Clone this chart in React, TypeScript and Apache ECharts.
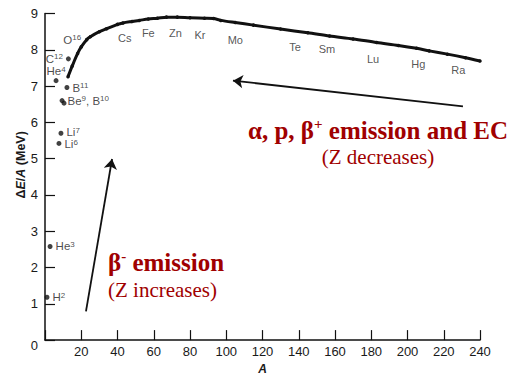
import React, { useEffect, useRef } from "react";
import * as echarts from "echarts";

// Binding energy per nucleon curve
const curveA = [12.7, 15, 18, 20, 23, 25, 30, 34, 40, 43, 48, 52, 57, 62, 67, 73, 80, 88, 93, 97, 105, 115, 130, 145, 157, 170, 183, 195, 205, 212, 222, 232, 240];
const curveE = [7.26, 7.55, 7.9, 8.08, 8.28, 8.36, 8.5, 8.58, 8.7, 8.74, 8.78, 8.81, 8.85, 8.87, 8.9, 8.9, 8.88, 8.87, 8.86, 8.81, 8.75, 8.68, 8.57, 8.47, 8.38, 8.3, 8.2, 8.12, 8.04, 7.97, 7.88, 7.78, 7.69];

// Light isotopes
const isoA = [1.1, 2.8, 6.1, 7.7, 8.8, 9.4, 10.5, 12.1, 12.9];
const isoE = [1.18, 2.58, 7.15, 5.42, 5.7, 6.6, 6.53, 6.96, 7.75];
const isoName = ["H", "He", "He", "Li", "Li", "Be", "", "B", "C"];
const isoMass = ["2", "3", "4", "6", "7", "9", "", "11", "12"];
const isoExtra = ["", "", "", "", "", "B", "", "", ""];
const isoExtraMass = ["", "", "", "", "", "10", "", "", ""];
const isoPos = ["right", "right", "top", "right", "right", "right", "right", "right", "left"];
const isoNudge = [0, 0, 0, 1, -1, 0, 0, 0, 0];

// O16 label near the curve
const oxyA = [15];
const oxyE = [8.27];

// Element labels along the curve
const elemName = ["Cs", "Fe", "Zn", "Kr", "Mo", "Te", "Sm", "Lu", "Hg", "Ra"];
const elemA = [44, 57, 72, 85.5, 105, 138, 155.6, 181, 206, 228];
const elemE = [8.33, 8.47, 8.47, 8.41, 8.27, 8.08, 8.03, 7.75, 7.6, 7.44];

// Arrows [tail, head] in data coordinates
const arrowBetaMinus = [[22.6, 0.79], [37, 4.99]];
const arrowAlpha = [[230.6, 6.44], [103.7, 7.15]];

const xTicks = [0, 240, 20];
const yTicks = [0, 9, 1];

const RED = "#a00000";
const SANS = "Liberation Sans, Arial, sans-serif";
const SERIF = "Liberation Serif, Times New Roman, serif";

export default function App() {
  const ref = useRef<HTMLDivElement>(null);
  useEffect(() => {
    if (!ref.current) return;
    document.body.style.margin = "0";
    const chart = echarts.init(ref.current, undefined, { renderer: "svg" });
    const isoRich = {
      b: { fontSize: 11.5, fontFamily: SANS, color: "#1a1a1a", lineHeight: 12 },
      s: { fontSize: 8, fontFamily: SANS, color: "#1a1a1a", verticalAlign: "top", lineHeight: 7 },
    };
    const isoData = isoA.map((a, i) => ({
      value: [a, isoE[i]],
      label: {
        show: isoName[i] !== "",
        position: isoPos[i],
        distance: i === 2 ? 1 : 3,
        offset: [0, isoNudge[i]],
        formatter:
          "{b|" + isoName[i] + "}{s|" + isoMass[i] + "}" +
          (isoExtra[i] ? "{b|, " + isoExtra[i] + "}{s|" + isoExtraMass[i] + "}" : ""),
        rich: isoRich,
      },
    }));
    chart.setOption({
      animation: false,
      grid: { left: 45, right: 47, top: 13.5, bottom: 38, containLabel: false },
      xAxis: {
        type: "value",
        min: xTicks[0],
        max: xTicks[1],
        interval: xTicks[2],
        name: "A",
        nameLocation: "middle",
        nameGap: 22,
        nameTextStyle: { fontFamily: SANS, fontStyle: "italic", fontWeight: "bold", fontSize: 12, color: "#1a1a1a" },
        axisLine: { lineStyle: { color: "#111", width: 1.5 } },
        axisTick: { inside: true, length: 10, lineStyle: { color: "#111", width: 1.2 } },
        axisLabel: {
          fontFamily: SANS,
          fontSize: 13,
          color: "#1a1a1a",
          margin: 5,
          formatter: (v: number) => (v === 0 ? "" : String(v)),
        },
        splitLine: { show: false },
      },
      yAxis: {
        type: "value",
        min: yTicks[0],
        max: yTicks[1],
        interval: yTicks[2],
        name: "{n|Δ}{i|E}{n|/}{i|A}{n| (MeV)}",
        nameLocation: "middle",
        nameRotate: 90,
        nameGap: 18,
        nameMoveOverlap: false,
        nameTextStyle: {
          padding: [0, 0, 0, 24],
          rich: {
            n: { fontFamily: SANS, fontSize: 12.5, fontWeight: "bold", color: "#1a1a1a" },
            i: { fontFamily: SANS, fontSize: 12.5, fontWeight: "bold", fontStyle: "italic", color: "#1a1a1a" },
          },
        },
        axisLine: { show: true, lineStyle: { color: "#111", width: 1.5 } },
        axisTick: { show: true, inside: true, length: 10, lineStyle: { color: "#111", width: 1.2 } },
        axisLabel: {
          fontFamily: SANS,
          fontSize: 13,
          color: "#1a1a1a",
          margin: 7,
          formatter: (v: number) => (v === 0 ? "{z|0}" : String(v)),
          rich: { z: { fontFamily: SANS, fontSize: 13, color: "#1a1a1a", padding: [10, 0, 0, 0] } },
        },
        splitLine: { show: false },
      },
      series: [
        {
          type: "line",
          data: curveA.map((a, i) => [a, curveE[i]]),
          smooth: 0.3,
          showSymbol: true,
          symbol: "circle",
          symbolSize: 3.5,
          itemStyle: { color: "#111" },
          lineStyle: { color: "#111", width: 3 },
          z: 3,
        },
        {
          type: "scatter",
          data: isoData,
          symbolSize: 5,
          itemStyle: { color: "#111" },
          z: 4,
        },
        {
          type: "scatter",
          data: oxyA.map((a, i) => [a, oxyE[i]]),
          symbolSize: 0,
          label: {
            show: true,
            position: "inside",
            formatter: "{b|O}{s|16}",
            rich: isoRich,
          },
        },
        {
          type: "scatter",
          data: elemA.map((a, i) => ({ value: [a, elemE[i]], name: elemName[i] })),
          symbolSize: 0,
          label: {
            show: true,
            position: "inside",
            formatter: "{b}",
            fontFamily: SANS,
            fontSize: 11,
            color: "#2a2a2a",
          },
        },
        {
          type: "scatter",
          data: [],
          markLine: {
            silent: true,
            symbol: ["none", "arrow"],
            symbolSize: 10,
            label: { show: false },
            lineStyle: { color: "#111", width: 1.8, type: "solid" },
            data: [
              [{ coord: arrowBetaMinus[0] }, { coord: arrowBetaMinus[1] }],
              [{ coord: arrowAlpha[0] }, { coord: arrowAlpha[1] }],
            ],
          },
        },
      ],
      graphic: [
        {
          type: "text",
          x: 378,
          y: 130,
          style: {
            text: "{g|α, p, β}{sup|+}{g| emission and EC}",
            align: "center",
            verticalAlign: "middle",
            rich: {
              g: { fontFamily: SERIF, fontWeight: "bold", fontSize: 25, fill: RED, lineHeight: 28 },
              sup: { fontFamily: SERIF, fontWeight: "bold", fontSize: 15, fill: RED, verticalAlign: "top", lineHeight: 18 },
            },
          },
        },
        {
          type: "text",
          x: 378,
          y: 157,
          style: {
            text: "(Z decreases)",
            align: "center",
            verticalAlign: "middle",
            fontFamily: SERIF,
            fontSize: 21,
            fill: RED,
          },
        },
        {
          type: "text",
          x: 108,
          y: 262,
          style: {
            text: "{g|β}{sup|-}{g| emission}",
            align: "left",
            verticalAlign: "middle",
            rich: {
              g: { fontFamily: SERIF, fontWeight: "bold", fontSize: 25, fill: RED, lineHeight: 28 },
              sup: { fontFamily: SERIF, fontWeight: "bold", fontSize: 15, fill: RED, verticalAlign: "top", lineHeight: 18 },
            },
          },
        },
        {
          type: "text",
          x: 108,
          y: 290,
          style: {
            text: "(Z increases)",
            align: "left",
            verticalAlign: "middle",
            fontFamily: SERIF,
            fontSize: 21,
            fill: RED,
          },
        },
      ],
    });
    return () => chart.dispose();
  }, []);
  return <div ref={ref} style={{ width: 527, height: 380 }} />;
}
